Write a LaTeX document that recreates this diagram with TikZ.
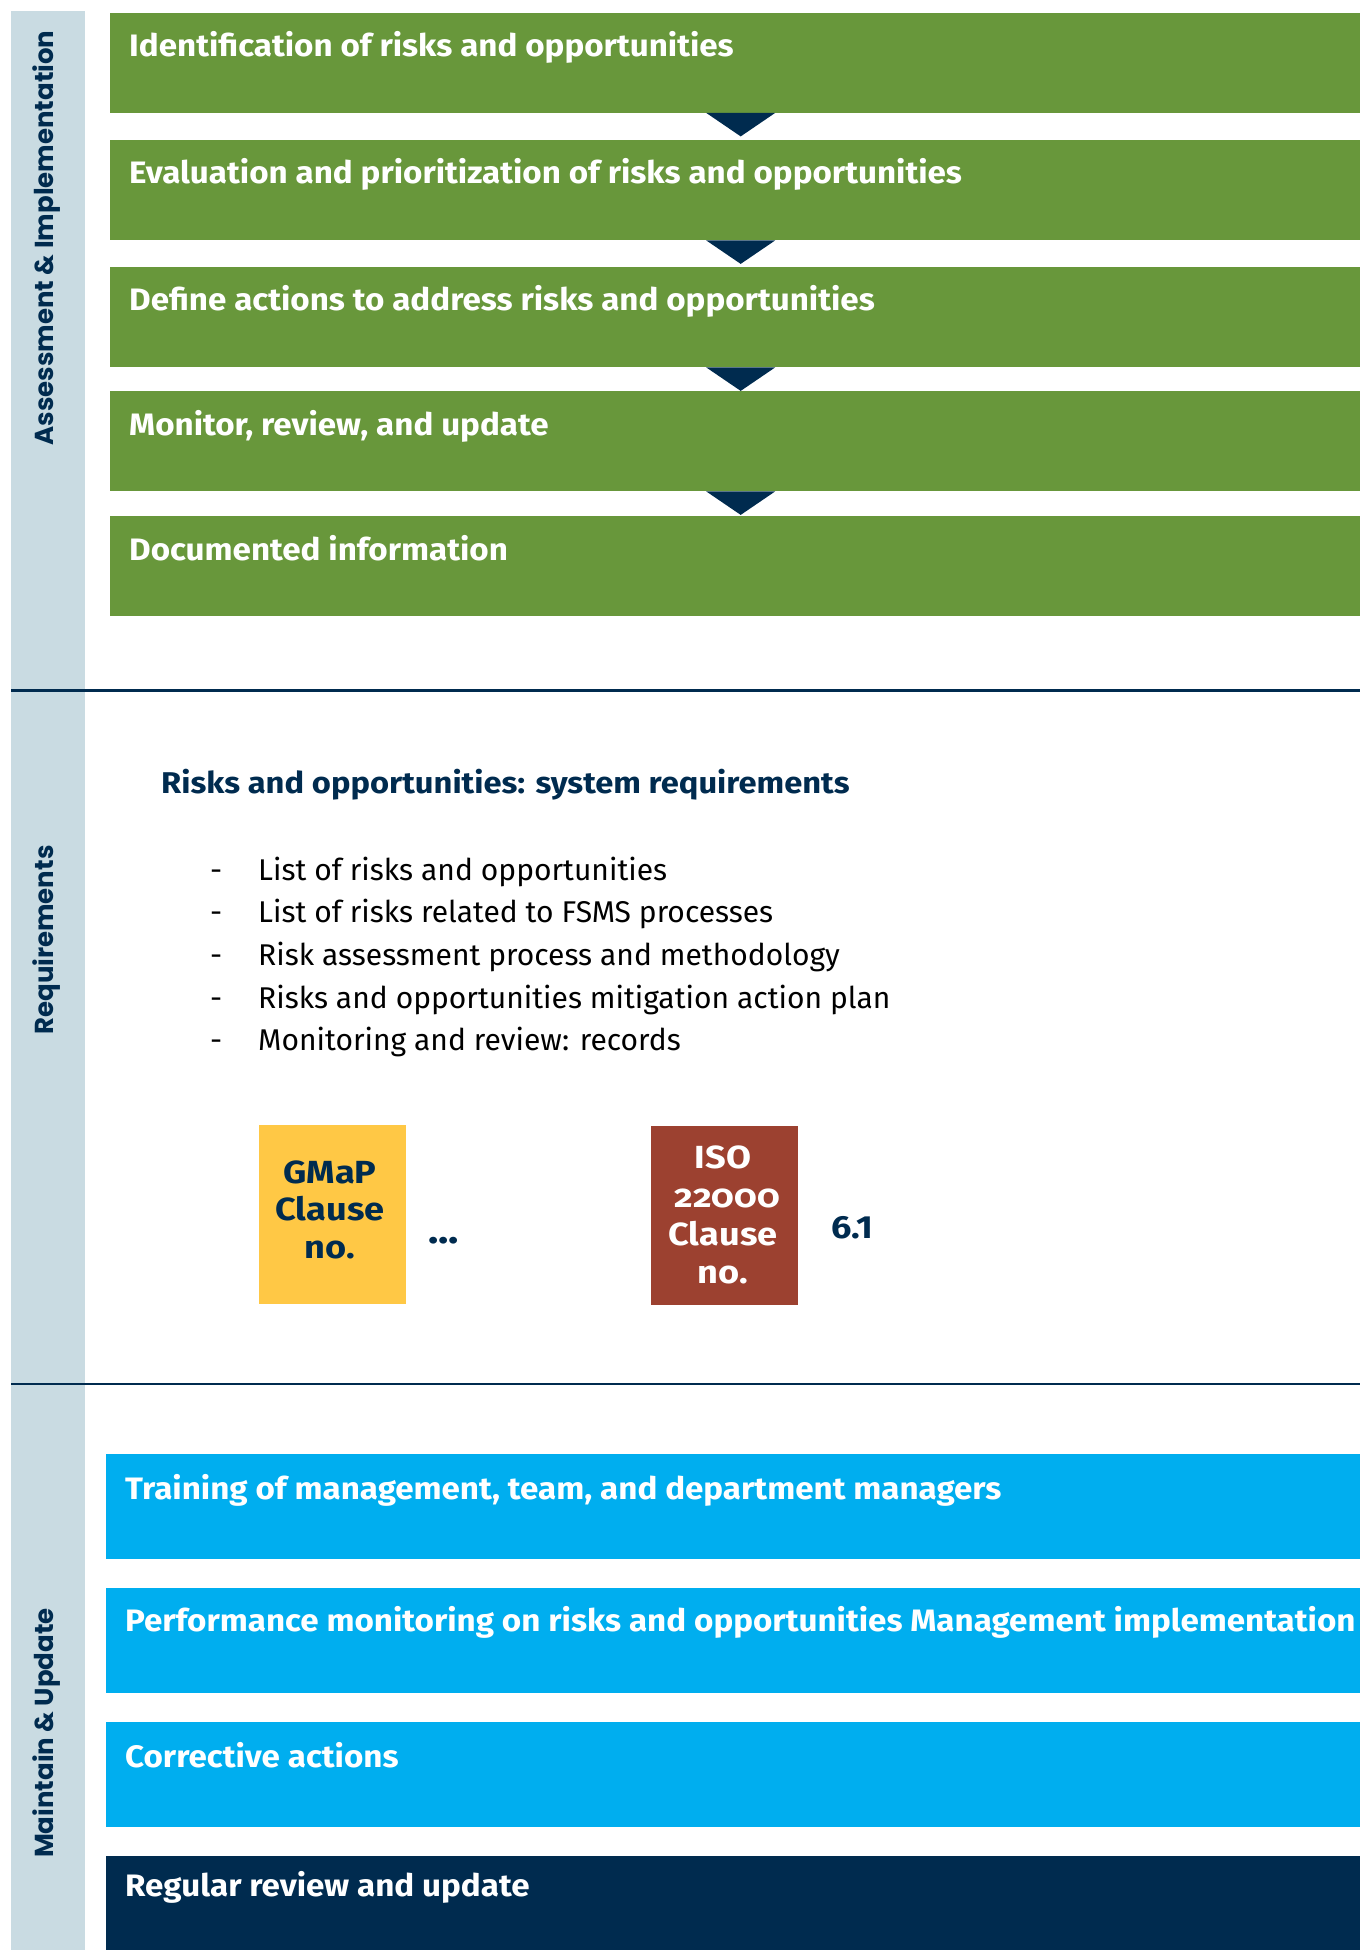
\documentclass[tikz,border=0pt]{standalone}
\usepackage{fontspec}
\setmainfont{Fira Sans}
\newfontfamily\popfont{Poppins}
\newfontfamily\boxfont{Fira Sans}[FakeStretch=1.07]
\newfontfamily\headfont{Fira Sans}[FakeStretch=1.09]
\newfontfamily\clfont{Fira Sans}[FakeStretch=1.13]
\definecolor{gr}{HTML}{68973B}
\definecolor{navy}{HTML}{002B4F}
\definecolor{sky}{HTML}{00AEEF}
\definecolor{side}{HTML}{C9DBE2}
\definecolor{yel}{HTML}{FFC845}
\definecolor{brick}{HTML}{9C4130}
\begin{document}
\begin{tikzpicture}[x=1pt,y=-1pt,
  gbox/.style={fill=gr,draw=none,rectangle,anchor=north west,minimum width=1250pt,inner sep=0},
  bbox/.style={fill=sky,draw=none,rectangle,anchor=north west,minimum width=1254pt,inner sep=0},
  btxt/.style={anchor=base west,inner sep=0,text=white,font=\boxfont\bfseries\fontsize{31}{36}\selectfont},
  tri/.style={fill=navy},
  sidelab/.style={rotate=90,inner sep=0,text=navy,font=\popfont\bfseries\fontsize{26}{30}\selectfont},
  item/.style={anchor=base west,inner sep=0,text=black,font=\fontsize{30}{34}\selectfont},
  clbox/.style={rectangle,anchor=north west,minimum width=147pt,minimum height=179pt,inner sep=0,draw=none},
  cltxt/.style={anchor=base,inner sep=0,font=\clfont\bfseries\fontsize{32}{36}\selectfont},
  sep/.style={draw=navy,line width=2.5pt}
]
\useasboundingbox (0,0) rectangle (1360,1950);
% sidebar
\fill[side] (11,11) rectangle (85,1950);
\node[sidelab] (l1) at (47,238) {Assessment \& Implementation};
\node[sidelab] (l2) at (47,940) {Requirements};
\node[sidelab] (l3) at (47,1733) {Maintain \& Update};
% green boxes
\node[gbox,minimum height=99.5pt] (g1) at (110,13) {};
\node[gbox,minimum height=100pt] (g2) at (110,140) {};
\node[gbox,minimum height=100pt] (g3) at (110,267) {};
\node[gbox,minimum height=100pt] (g4) at (110,391) {};
\node[gbox,minimum height=100pt] (g5) at (110,516) {};
\node[btxt] (tg1) at (129,56.7) {Identification of risks and opportunities};
\node[btxt] (tg2) at (129,184) {Evaluation and prioritization of risks and opportunities};
\node[btxt] (tg3) at (129,311) {Define actions to address risks and opportunities};
\node[btxt] (tg4) at (129,435) {Monitor, review, and update};
\node[btxt] (tg5) at (129,560) {Documented information};
% triangles
\foreach \a in {g1,g2,g3,g4}{
  \fill[tri] ([xshift=-29pt]\a.south) -- ([xshift=40pt]\a.south) -- ([xshift=5.5pt,yshift=-23.5pt]\a.south) -- cycle;
}
% separators
\coordinate (s1a) at (11,690.5); \coordinate (s1b) at (1360,690.5);
\coordinate (s2a) at (11,1384); \coordinate (s2b) at (1360,1384);
\draw[sep] (s1a) -- (s1b);
\draw[sep] (s2a) -- (s2b);
% requirements
\node[anchor=base west,inner sep=0,text=navy,font=\headfont\bfseries\fontsize{30}{34}\selectfont] (hd) at (161,793.5) {Risks and opportunities: system requirements};
\foreach \y/\t [count=\i] in {880.6/List of risks and opportunities,922.7/List of risks related to FSMS processes,965.8/Risk assessment process and methodology,1008/Risks and opportunities mitigation action plan,1050/Monitoring and review: records}{
  \node[item] (d\i) at (210,\y) {-};
  \node[item] (it\i) at (258,\y) {\t};
}
\node[clbox,fill=yel] (gm) at (259,1125) {};
\node[cltxt,text=navy] (gm1) at (330,1183) {GMaP};
\node[cltxt,text=navy] (gm2) at (330,1220) {Clause};
\node[cltxt,text=navy] (gm3) at (330,1258) {no.};
\node[anchor=base west,inner sep=0,text=navy,font=\clfont\bfseries\fontsize{38}{40}\selectfont] (dots) at (428,1243) {...};
\node[clbox,fill=brick] (iso) at (651,1126) {};
\node[cltxt,text=white] (iso1) at (723,1168) {ISO};
\node[cltxt,text=white] (iso2) at (727,1207) {\addfontfeatures{Numbers=OldStyle}22000};
\node[cltxt,text=white] (iso3) at (723,1245) {Clause};
\node[cltxt,text=white] (iso4) at (723,1283) {no.};
\node[anchor=base west,inner sep=0,text=navy,font=\clfont\bfseries\fontsize{32}{36}\selectfont] (v61) at (831,1238) {6.1};
% blue boxes
\node[bbox,minimum height=104.6pt] (m1) at (106,1454) {};
\node[bbox,minimum height=104.5pt] (m2) at (106,1588) {};
\node[bbox,minimum height=105pt] (m3) at (106,1722) {};
\node[bbox,fill=navy,minimum height=94pt] (m4) at (106,1856) {};
\node[btxt] (tm1) at (125,1499) {Training of management, team, and department managers};
\node[btxt] (tm2) at (125,1631) {Performance monitoring on risks and opportunities Management implementation};
\node[btxt] (tm3) at (125,1767) {Corrective actions};
\node[btxt] (tm4) at (125,1896.5) {Regular review and update};
\end{tikzpicture}
\end{document}
